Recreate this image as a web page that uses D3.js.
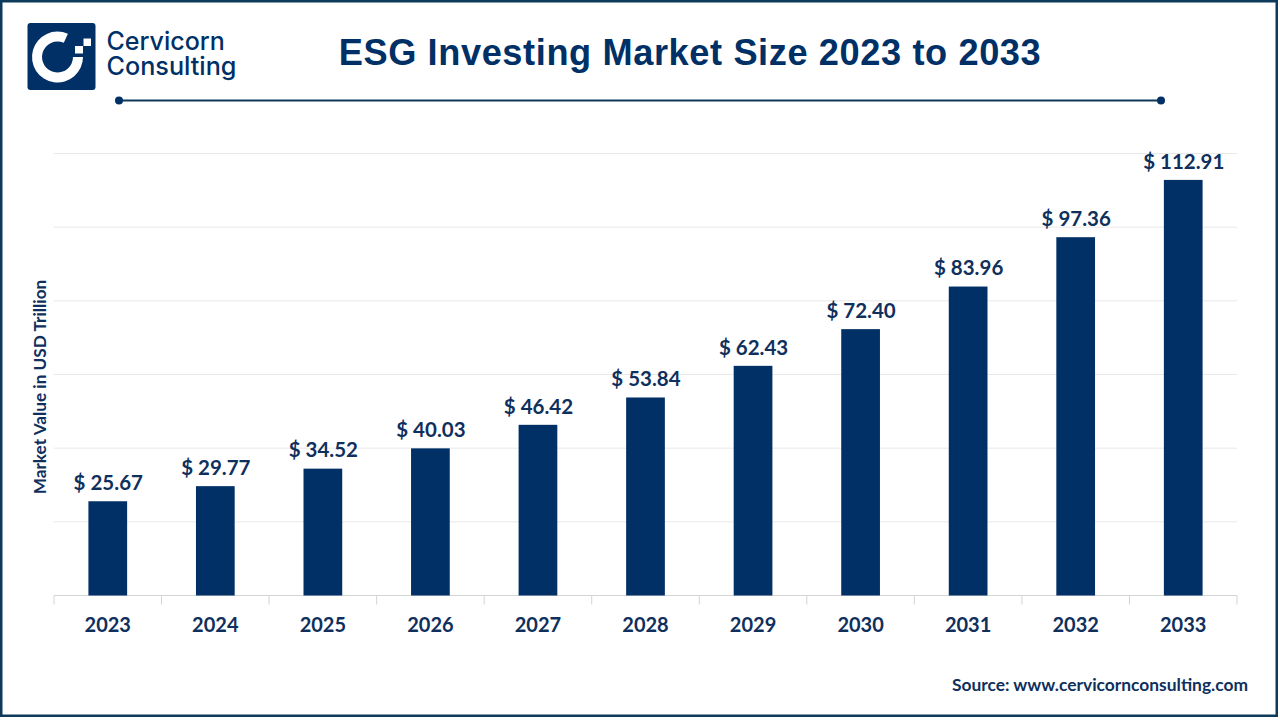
<!DOCTYPE html>
<html><head><meta charset="utf-8">
<script src="https://cdnjs.cloudflare.com/ajax/libs/d3/7.8.5/d3.min.js"></script>
<style>html,body{margin:0;padding:0;background:#fff}svg{display:block}</style>
</head><body><svg id="c" width="1280" height="720"></svg>
<script>
const years = ["2023","2024","2025","2026","2027","2028","2029","2030","2031","2032","2033"];
const values = [25.67,29.77,34.52,40.03,46.42,53.84,62.43,72.40,83.96,97.36,112.91];
const gridTicks = [0,20,40,60,80,100,120];
const logoLines = ["Cervicorn","Consulting"];
const titleText = "ESG Investing Market Size 2023 to 2033";
const yAxisTitle = "Market Value in USD Trillion";
const sourceText = "Source: www.cervicornconsulting.com";

const navy = "#003066", text = "#0f2f5c", lab = "Lato, Carlito, sans-serif";
const svg = d3.select("#c");
svg.append("rect").attr("x",1.25).attr("y",1.25).attr("width",1275.5).attr("height",714.5)
  .attr("fill","#fff").attr("stroke","#0e3a5a").attr("stroke-width",2.5);

const x = d3.scaleBand().domain(years).range([54,1237]).paddingInner(0.64).paddingOuter(0.32);
const y = d3.scaleLinear().domain([0,120]).range([595.5,153.5]);

// grid
svg.append("g").selectAll("line").data(gridTicks.filter(d=>d>0)).join("line")
  .attr("x1",54).attr("x2",1237).attr("y1",d=>y(d)).attr("y2",d=>y(d))
  .attr("stroke","#e8e8e8").attr("stroke-width",1);

// x axis with ticks at band edges
const step = x.step();
const edges = years.map((_,i)=>54+i*step).concat([1237]);
const ax = svg.append("g");
ax.append("line").attr("x1",54).attr("x2",1237).attr("y1",y(0)).attr("y2",y(0)).attr("stroke","#d4d4d4").attr("stroke-width",1);
ax.selectAll("line.t").data(edges).join("line").attr("class","t")
  .attr("x1",d=>d).attr("x2",d=>d).attr("y1",y(0)).attr("y2",y(0)+9)
  .attr("stroke","#d4d4d4").attr("stroke-width",1);

// bars
svg.append("g").selectAll("rect").data(values).join("rect")
  .attr("x",(d,i)=>x(years[i])).attr("width",x.bandwidth())
  .attr("y",d=>y(d)+0.3).attr("height",d=>y(0)-y(d)-0.3).attr("fill",navy);

// value labels
svg.append("g").selectAll("text").data(values).join("text")
  .attr("x",(d,i)=>x(years[i])+x.bandwidth()/2+0.5).attr("y",d=>y(d)-11)
  .attr("text-anchor","middle").attr("font-family",lab).attr("font-weight",700)
  .attr("font-size",20.5).attr("fill",text).text(d=>"$ "+d.toFixed(2));

// year labels
svg.append("g").selectAll("text").data(years).join("text")
  .attr("x",d=>x(d)+x.bandwidth()/2).attr("y",632)
  .attr("text-anchor","middle").attr("font-family",lab).attr("font-weight",700)
  .attr("font-size",20).attr("fill",text).text(d=>d);

// y title
svg.append("text").attr("transform","translate(46,387) rotate(-90)")
  .attr("text-anchor","middle").attr("font-family",lab).attr("font-weight",700)
  .attr("font-size",17.2).attr("fill",text).text(yAxisTitle);

// title
svg.append("text").attr("x",690).attr("y",65).attr("text-anchor","middle")
  .attr("font-family","'Liberation Sans',Arial,sans-serif").attr("font-weight",700)
  .attr("font-size",36.2).attr("letter-spacing",0.6).attr("fill",navy).text(titleText);

// rule
svg.append("line").attr("x1",119).attr("x2",1161).attr("y1",100.5).attr("y2",100.5).attr("stroke","#0e3a5a").attr("stroke-width",2);
svg.append("g").selectAll("circle").data([119,1161]).join("circle")
  .attr("cx",d=>d).attr("cy",100.5).attr("r",4).attr("fill",navy);

// source
svg.append("text").attr("x",1248).attr("y",691).attr("text-anchor","end")
  .attr("font-family",lab).attr("font-weight",700).attr("font-size",17.4).attr("fill",text).text(sourceText);

// logo
const logo = svg.append("g");
logo.append("rect").attr("x",27.5).attr("y",23).attr("width",68).attr("height",67).attr("rx",3).attr("fill",navy);
logo.append("path").attr("transform","translate(57.5,57)").attr("fill","#fff")
  .attr("d",d3.arc().innerRadius(15.5).outerRadius(25.5)({startAngle:Math.PI/2,endAngle:2*Math.PI+0.42}));
logo.append("rect").attr("x",75).attr("y",46).attr("width",8).attr("height",7.5).attr("fill","#fff");
logo.append("rect").attr("x",83.5).attr("y",38.5).attr("width",7.5).attr("height",7.5).attr("fill","#fff");
logo.selectAll("text").data(logoLines).join("text")
  .attr("x",106.5).attr("y",(d,i)=>50+i*25).attr("font-family","Inter, Roboto, sans-serif")
  .attr("font-weight",500).attr("font-size",(d,i)=>i?25.2:25).attr("fill",navy).text(d=>d);
</script></body></html>
